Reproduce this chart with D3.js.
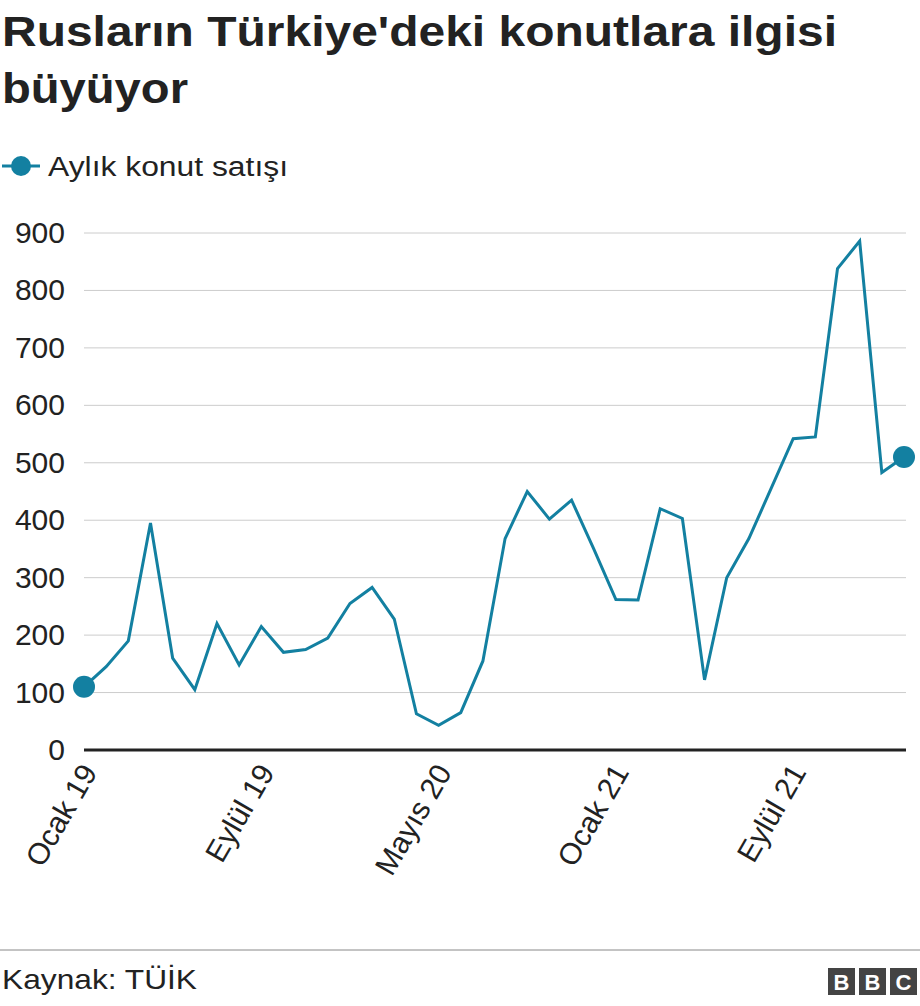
<!DOCTYPE html>
<html><head><meta charset="utf-8">
<script src="https://cdn.jsdelivr.net/npm/d3@7"></script>
<style>body{margin:0;background:#fff;font-family:"Liberation Sans",Arial,sans-serif}</style>
</head><body><svg id="c" width="920" height="1006"></svg>
<script>
const months=["Ocak 19","Şubat 19","Mart 19","Nisan 19","Mayıs 19","Haziran 19","Temmuz 19","Ağustos 19","Eylül 19","Ekim 19","Kasım 19","Aralık 19","Ocak 20","Şubat 20","Mart 20","Nisan 20","Mayıs 20","Haziran 20","Temmuz 20","Ağustos 20","Eylül 20","Ekim 20","Kasım 20","Aralık 20","Ocak 21","Şubat 21","Mart 21","Nisan 21","Mayıs 21","Haziran 21","Temmuz 21","Ağustos 21","Eylül 21","Ekim 21","Kasım 21","Aralık 21","Ocak 22","Şubat 22"];
const sales=[110,145,190,395,160,105,220,148,215,170,175,195,255,283,228,63,43,65,155,368,450,402,435,350,262,261,420,403,122,300,368,455,542,545,838,886,483,510];
const tickLabels=["Ocak 19","Eylül 19","Mayıs 20","Ocak 21","Eylül 21"];
const yTicks=[0,100,200,300,400,500,600,700,800,900];
const svg=d3.select("#c");
const color="#1380A1";
svg.append("text").attr("x",2).attr("y",46).attr("font-size",42).attr("font-weight","bold").attr("fill","#222").attr("textLength",835).attr("lengthAdjust","spacingAndGlyphs").text("Rusların Türkiye'deki konutlara ilgisi");
svg.append("text").attr("x",2).attr("y",103).attr("font-size",42).attr("font-weight","bold").attr("fill","#222").attr("textLength",186).attr("lengthAdjust","spacingAndGlyphs").text("büyüyor");
svg.append("line").attr("x1",2).attr("x2",40).attr("y1",166).attr("y2",166).attr("stroke",color).attr("stroke-width",3);
svg.append("circle").attr("cx",21).attr("cy",166).attr("r",10).attr("fill",color);
svg.append("text").attr("x",48).attr("y",176).attr("font-size",27).attr("fill","#222").attr("textLength",240).attr("lengthAdjust","spacingAndGlyphs").text("Aylık konut satışı");
const x=d3.scalePoint().domain(months).range([84,904]);
const y=d3.scaleLinear().domain([0,900]).range([750,233]);
const g=svg.append("g");
yTicks.forEach(t=>{
 g.append("line").attr("x1",84).attr("x2",906).attr("y1",y(t)).attr("y2",y(t)).attr("stroke",t===0?"#222":"#ccc").attr("stroke-width",t===0?3:1);
 g.append("text").attr("x",65).attr("y",y(t)+10).attr("text-anchor","end").attr("font-size",30).attr("fill","#222").text(t);
});
tickLabels.forEach(l=>{
 g.append("text").attr("transform",`translate(${x(l)+14},772) rotate(-60)`).attr("text-anchor","end").attr("font-size",30).attr("fill","#222").text(l);
});
g.append("path").datum(sales).attr("fill","none").attr("stroke",color).attr("stroke-width",3)
 .attr("d",d3.line().x((d,i)=>x(months[i])).y(d=>y(d)));
[0,sales.length-1].forEach(i=>g.append("circle").attr("cx",x(months[i])).attr("cy",y(sales[i])).attr("r",11).attr("fill",color));
svg.append("line").attr("x1",0).attr("x2",920).attr("y1",950).attr("y2",950).attr("stroke","#888");
svg.append("text").attr("x",2).attr("y",989).attr("font-size",28).attr("fill","#222").attr("textLength",195).attr("lengthAdjust","spacingAndGlyphs").text("Kaynak: TÜİK");
const b=svg.append("g");
["B","B","C"].forEach((c,i)=>{
 b.append("rect").attr("x",828+i*31).attr("y",968).attr("width",27).attr("height",27).attr("fill","#444");
 b.append("text").attr("x",841.5+i*31).attr("y",990).attr("text-anchor","middle").attr("font-size",22).attr("font-weight","bold").attr("fill","#fff").text(c);
});
</script></body></html>
